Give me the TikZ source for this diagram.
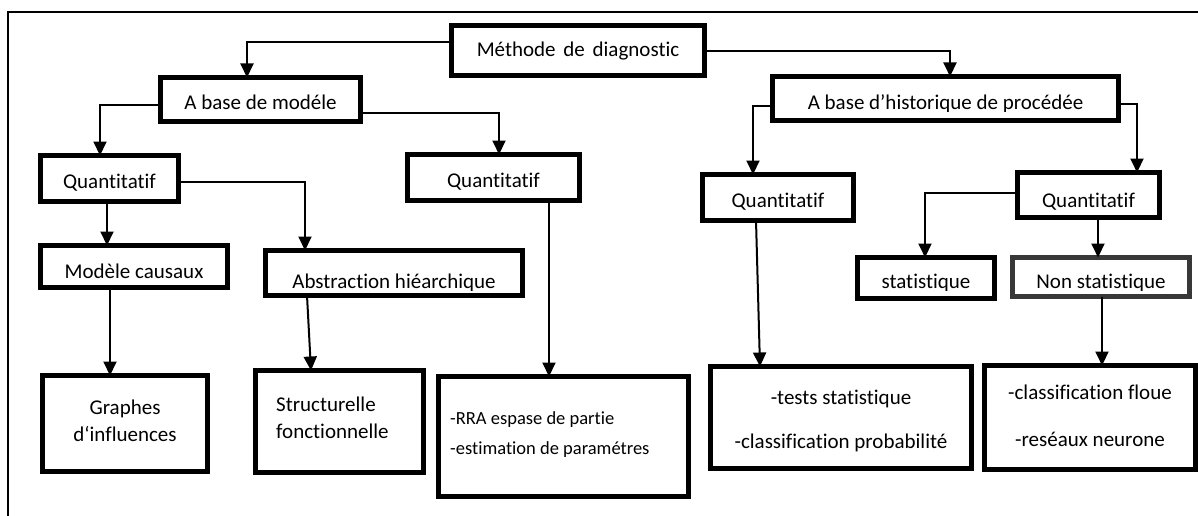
\documentclass[tikz,border=0pt]{standalone}
\usepackage{fontspec}
\setmainfont{Carlito}[Ligatures={TeX,NoCommon}]
\newfontfamily\rrafont{Carlito}[Ligatures={TeX,NoCommon}]
\usetikzlibrary{arrows.meta}
\begin{document}
\begin{tikzpicture}[x=1pt,y=-1pt,
  box/.style={draw=black,line width=5pt,fill=white,inner sep=0pt,outer sep=0pt},
  txt/.style={inner sep=0pt,anchor=base,font=\fontsize{21}{25}\selectfont},
  rtxt/.style={inner sep=0pt,anchor=base west,font=\rrafont\fontsize{18.5}{22}\selectfont},
  arr/.style={line width=2pt,-{Triangle[width=13pt,length=14pt]}},
  frame/.style={line width=1.6pt}]
\useasboundingbox (0,0) rectangle (1198,516);
% outer frame
\coordinate (fbl) at (8,517);
\coordinate (ftl) at (8,12);
\coordinate (ftr) at (1199,12);
\draw[frame] (fbl) -- (ftl) -- (ftr);
% boxes
\node[box,minimum width=253pt,minimum height=50pt] (meth) at (578,50.5) {};
\node[box,minimum width=200pt,minimum height=44pt] (modele) at (260.5,99.5) {};
\node[box,minimum width=346pt,minimum height=44pt] (hist) at (945.5,98.5) {};
\node[box,minimum width=138pt,minimum height=46pt] (q1) at (109.5,178.5) {};
\node[box,minimum width=172pt,minimum height=46pt] (q2) at (493.5,177.5) {};
\node[box,minimum width=151pt,minimum height=46pt] (q3) at (778,197.5) {};
\node[box,minimum width=142pt,minimum height=45pt] (q4) at (1088.5,195) {};
\node[box,minimum width=187pt,minimum height=42pt] (causaux) at (134,266.5) {};
\node[box,minimum width=257pt,minimum height=45pt] (abstr) at (394,273) {};
\node[box,minimum width=137pt,minimum height=41pt] (stat) at (926,278) {};
\node[box,draw={black!78},minimum width=177pt,minimum height=39pt] (nonstat) at (1101,277) {};
\node[box,minimum width=165pt,minimum height=96pt] (graphes) at (125,423.5) {};
\node[box,minimum width=168pt,minimum height=102pt] (struct) at (339.5,421.5) {};
\node[box,minimum width=250pt,minimum height=120pt] (rra) at (563.5,436.5) {};
\node[box,minimum width=261pt,minimum height=102pt] (tests) at (841,417.5) {};
\node[box,minimum width=211pt,minimum height=104pt] (classif) at (1090,417.5) {};
% texts
\node[txt] (tmeth) at (578,57) {Méthode\hspace{3pt} de\hspace{3pt} diagnostic};
\node[txt] (tmodele) at (260.5,110) {A base de modéle};
\begin{scope}
\clip (hist.north west) rectangle (hist.east |- 0,112);
\node[txt] (thist) at (945.5,110) {A base d’historique de procédée};
\end{scope}
\node[txt] (tq1) at (109.5,188) {Quantitatif};
\node[txt] (tq2) at (493.5,187) {Quantitatif};
\node[txt] (tq3) at (778,207) {Quantitatif};
\node[txt] (tq4) at (1088.5,207) {Quantitatif};
\node[txt] (tcausaux) at (134,278) {Modèle causaux};
\begin{scope}
\clip (abstr.north west) rectangle (abstr.east |- 0,290);
\node[txt] (tabstr) at (394,288) {Abstraction hiéarchique};
\end{scope}
\begin{scope}
\clip (stat.north west) rectangle (stat.east |- 0,290);
\node[txt] (tstat) at (926,288) {statistique};
\end{scope}
\begin{scope}
\clip (nonstat.north west) rectangle (nonstat.east |- 0,290);
\node[txt] (tnonstat) at (1101,288) {Non statistique};
\end{scope}
\node[txt] (tgr1) at (125,414) {Graphes};
\node[txt] (tgr2) at (125,441) {d‘influences};
\node[txt,anchor=base west] (tst1) at (276,411) {Structurelle};
\node[txt,anchor=base west] (tst2) at (276,438) {fonctionnelle};
\node[rtxt] (trra1) at (450,424) {-RRA espase de partie};
\node[rtxt] (trra2) at (450,454) {-estimation de paramétres};
\node[txt] (tte1) at (841,404) {-tests statistique};
\node[txt] (tte2) at (841,448) {-classification probabilité};
\node[txt] (tcl1) at (1090,399) {-classification floue};
\node[txt] (tcl2) at (1090,446) {-reséaux neurone};
% connectors
\draw[arr] (meth.west |- 0,42) -| (modele.north -| 247,0);
\draw[arr] (meth.east |- 0,51) -| (hist.north -| 950,0);
\draw[arr] (modele.west |- 0,105) -| (q1.north -| 100,0);
\draw[arr] (modele.east |- 0,113) -| (q2.north -| 499,0);
\draw[arr] (q1.south -| 107,0) -- (causaux.north -| 107,0);
\draw[arr] (q1.east |- 0,182) -| (abstr.north -| 305,0);
\draw[arr] (q2.south -| 549,0) -- (rra.north -| 549,0);
\draw[arr] (hist.west |- 0,106) -| (q3.north -| 753,0);
\draw[arr] (hist.east |- 0,104) -| (q4.north -| 1137,0);
\draw[arr] (q3.south -| 756,0) -- (tests.north -| 760,0);
\draw[arr] (q4.west |- 0,193) -| (stat.north -| 925,0);
\draw[arr] (q4.south -| 1098,0) -- (nonstat.north -| 1098,0);
\draw[arr] (causaux.south -| 110,0) -- (graphes.north -| 110,0);
\draw[arr] (abstr.south -| 307,0) -- (struct.north -| 311,0);
\draw[arr] (nonstat.south -| 1102,0) -- (classif.north -| 1102,0);
\end{tikzpicture}
\end{document}
